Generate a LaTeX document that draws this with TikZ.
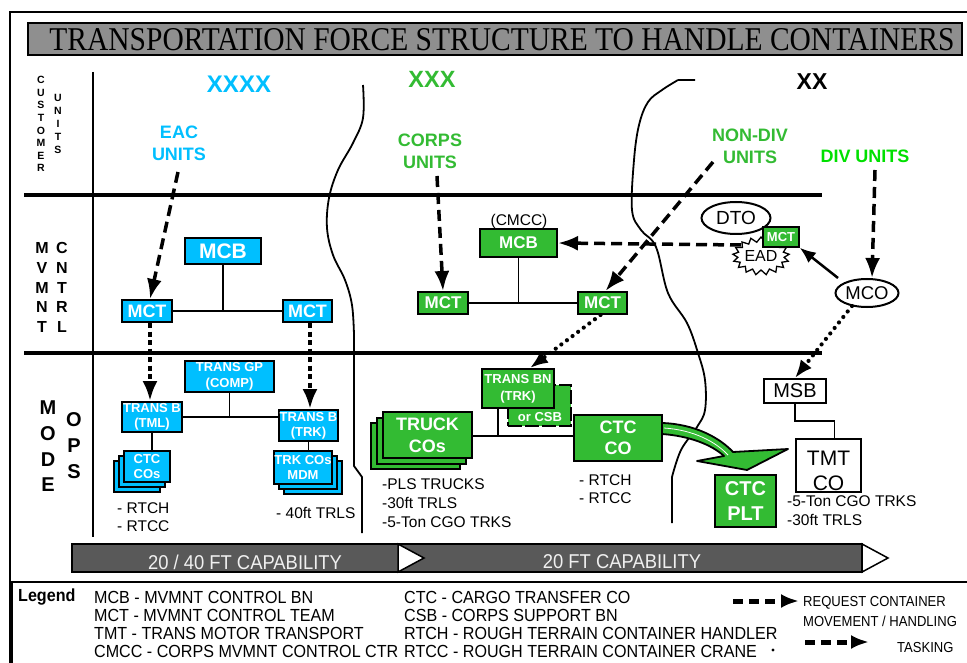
\documentclass[tikz,border=0pt]{standalone}
\usepackage{fontspec}
\usepackage{graphicx}
\setmainfont{Liberation Sans}
\newfontfamily\serifT{Liberation Serif}
\usetikzlibrary{arrows.meta,shapes.symbols,shapes.geometric}
\definecolor{cy}{HTML}{00BFFF}
\definecolor{gr}{HTML}{33BB33}
\definecolor{gt}{HTML}{33BB33}
\definecolor{lime}{HTML}{00E000}
\definecolor{titlegray}{HTML}{8F8F8F}
\definecolor{bargray}{HTML}{595959}
\newcommand{\fsz}[2]{\fontsize{#1}{#2}\selectfont}
\newcommand{\nar}[1]{\scalebox{0.92}[1]{#1}}
\tikzset{
  box/.style={draw=black, line width=2pt, inner sep=0pt, align=center, text=white},
  cbox/.style={box, fill=cy},
  gbox/.style={box, fill=gr},
  wbox/.style={draw=black, line width=2pt, fill=white, inner sep=0pt, align=center},
  conn/.style={line width=1.8pt},
  req/.style={line width=3.5pt, dash pattern=on 11pt off 6pt, -{Latex[length=20pt,width=15pt]}},
  tsk/.style={line width=3.8pt, dash pattern=on 5pt off 3.5pt, -{Latex[length=20pt,width=15pt]}},
  dotarr/.style={line width=4.2pt, line cap=round, dash pattern=on 0pt off 7pt, -{Latex[length=18pt,width=14pt]}},
  solidarr/.style={line width=2.5pt, -{Latex[length=16pt,width=13pt]}},
  sepline/.style={line width=4pt},
  border/.style={line width=2pt},
  ann/.style={font=\fsz{15.5}{15.5}, anchor=west, inner sep=0pt},
  lgd/.style={font=\fsz{17.5}{17.5}, anchor=west, inner sep=0pt},
  curvy/.style={line width=1.8pt, line join=round},
}
\begin{document}
\begin{tikzpicture}[x=1pt,y=-1pt]
\useasboundingbox (0,0) rectangle (967,663);
\fill[white] (0,0) rectangle (967,663);

% frame and title
\draw[border] (10,664) -- (10,12) -- (968,12);
\node[draw=black, line width=2pt, fill=titlegray, minimum width=934pt, minimum height=32pt, inner sep=0pt] (tbox) at (495,39) {};
\node[inner sep=0pt] (title) at (502,39.5) {\resizebox{905pt}{22pt}{\serifT TRANSPORTATION FORCE STRUCTURE TO HANDLE CONTAINERS}};

% separators
\draw[sepline] (24,195) -- (822,195);
\draw[sepline] (24,353) -- (822,353);
\draw[line width=2pt] (93,72) -- (93,537);

% curvy boundaries
\draw[curvy] plot[smooth, tension=0.6] coordinates {(363,85) (363,118) (353,143) (338,170) (329,198) (327,228) (333,255) (345,280) (352,305) (354,335)} -- (354,466) -- (362,477) -- (362,533);
\draw[curvy] (695,80) -- (678,80) plot[smooth, tension=0.6] coordinates {(678,80) (662,90) (648,102) (639,125) (634,160) (632,210) (641,230) (656,247) (668,293) (687,323) (698,353) (705,380) (705,410) (697,427) (681,450) (672,477)} -- (672,523);

% left labels
\foreach \l [count=\i from 0] in {C,U,S,T,O,M,E,R}
  \node[font=\fsz{10.5}{10.5}\bfseries, inner sep=0pt] (cu\i) at (41,{80+12.6*\i}) {\l};
\foreach \l [count=\i from 0] in {U,N,I,T,S}
  \node[font=\fsz{10.5}{10.5}\bfseries, inner sep=0pt] (un\i) at (58,{98+13*\i}) {\l};
\foreach \l [count=\i from 0] in {M,V,M,N,T}
  \node[font=\fsz{16}{16}\bfseries, inner sep=0pt] (mv\i) at (42,{248+19.75*\i}) {\l};
\foreach \l [count=\i from 0] in {C,N,T,R,L}
  \node[font=\fsz{16}{16}\bfseries, inner sep=0pt] (cn\i) at (62,{248+19.75*\i}) {\l};
\foreach \l [count=\i from 0] in {M,O,D,E}
  \node[font=\fsz{20}{20}\bfseries, inner sep=0pt] (mo\i) at (48,{408+25.7*\i}) {\l};
\foreach \l [count=\i from 0] in {O,P,S}
  \node[font=\fsz{20}{20}\bfseries, inner sep=0pt] (op\i) at (74,{420+26*\i}) {\l};

% column headers
\node[font=\fsz{24}{24}\bfseries, text=cy, inner sep=0pt] (x4) at (239,84) {XXXX};
\node[font=\fsz{23.5}{23.5}\bfseries, text=gt, inner sep=0pt] (x3) at (432,79) {XXX};
\node[font=\fsz{23}{23}\bfseries, text=black, inner sep=0pt] (x2) at (812,82) {XX};

\node[font=\fsz{18}{22}\bfseries, text=cy, align=center, inner sep=0pt] (eac) at (179,143) {EAC\\UNITS};
\node[font=\fsz{18}{22}\bfseries, text=gt, align=center, inner sep=0pt] (corps) at (430,151) {CORPS\\UNITS};
\node[font=\fsz{18}{22}\bfseries, text=gt, align=center, inner sep=0pt] (nondiv) at (750,146.5) {NON-DIV\\UNITS};
\node[font=\fsz{18}{18}\bfseries, text=lime, inner sep=0pt] (div) at (865,156) {DIV UNITS};

% ---------- cyan (EAC) ----------
\node[cbox, minimum width=76pt, minimum height=26pt, font=\fsz{21}{21}\bfseries] (mcbC) at (223,251) {MCB};
\node[cbox, minimum width=50pt, minimum height=22pt, font=\fsz{18}{18}\bfseries] (mctC1) at (147,311) {MCT};
\node[cbox, minimum width=49pt, minimum height=22pt, font=\fsz{18}{18}\bfseries] (mctC2) at (307.5,311) {MCT};
\draw[conn] (mcbC.south) -- (mcbC.south |- mctC1.east);
\draw[conn] (mctC1.east) -- (mctC2.west);

\node[cbox, minimum width=89pt, minimum height=31pt, font=\fsz{13}{16}\bfseries] (transgp) at (229.5,376.5) {TRANS GP\\(COMP)};
\node[cbox, minimum width=60pt, minimum height=30pt, font=\fsz{13}{15}\bfseries] (tml) at (152,417) {TRANS B\\(TML)};
\node[cbox, minimum width=59pt, minimum height=31pt, font=\fsz{13}{15}\bfseries] (trk) at (308.5,425.5) {TRANS B\\(TRK)};
\draw[conn] (transgp.south) -- (transgp.south |- tml.east);
\draw[conn] (tml.east) -- (trk.west |- tml.east);

\node[cbox, minimum width=46pt, minimum height=31pt] (ctcb2) at (137,476.5) {};
\node[cbox, minimum width=46pt, minimum height=31pt] (ctcb1) at (142,471.5) {};
\node[cbox, minimum width=46pt, minimum height=31pt, font=\fsz{13}{15}\bfseries] (ctcC) at (147,466.5) {CTC\\COs};
\node[cbox, minimum width=58pt, minimum height=33pt] (trkb2) at (313,477.5) {};
\node[cbox, minimum width=58pt, minimum height=33pt] (trkb1) at (308,472.5) {};
\node[cbox, minimum width=58pt, minimum height=33pt, font=\fsz{13}{15}\bfseries] (trkC) at (303,467.5) {TRK COs\\MDM};
\draw[conn] (tml.south) -- (tml.south |- ctcC.north);
\draw[conn] (trk.south) -- (trk.south |- trkC.north);

\node[ann] (a1) at (117,508) {- RTCH};
\node[ann] (a2) at (117,526) {- RTCC};
\node[ann] (a3) at (276,513) {- 40ft TRLS};

% ---------- green (CORPS) ----------
\node[font=\fsz{15.5}{15.5}, inner sep=0pt] (cmcc) at (519,221) {(CMCC)};
\node[gbox, minimum width=77pt, minimum height=28pt, font=\fsz{17}{17}\bfseries] (mcbG) at (518.5,243) {MCB};
\node[gbox, minimum width=50pt, minimum height=22pt, font=\fsz{17}{17}\bfseries] (mctG1) at (443,303) {MCT};
\node[gbox, minimum width=49pt, minimum height=22pt, font=\fsz{17}{17}\bfseries] (mctG2) at (602.5,303) {MCT};
\draw[conn] (mcbG.south) -- (mcbG.south |- mctG1.east);
\draw[conn] (mctG1.east) -- (mctG2.west);

\node[gbox, dash pattern=on 14pt off 3pt, minimum width=63pt, minimum height=41pt] (csb) at (539.5,405.5) {};
\node[font=\fsz{13}{13}\bfseries, text=white, inner sep=0pt] (csbt) at (540,417) {or CSB};
\node[gbox, minimum width=72pt, minimum height=39pt, font=\fsz{13}{17}\bfseries] (transbn) at (518,388.5) {TRANS BN\\(TRK)};

\node[gbox, minimum width=89pt, minimum height=46pt] (trkb2g) at (415.5,446) {};
\node[gbox, minimum width=89pt, minimum height=46pt] (trkb1g) at (421.5,440.5) {};
\node[gbox, minimum width=89pt, minimum height=46pt, font=\fsz{18}{22}\bfseries] (truck) at (427.5,435) {TRUCK\\COs};
\node[gbox, minimum width=88pt, minimum height=46pt, font=\fsz{18}{21}\bfseries] (ctcCO) at (618,438) {CTC\\CO};
\coordinate (bnj) at (498,436);
\draw[conn] (transbn.south -| bnj) -- (bnj);
\draw[conn] (truck.east |- bnj) -- (ctcCO.west |- bnj);

\node[ann] (b1) at (382,484) {-PLS TRUCKS};
\node[ann] (b2) at (382,503) {-30ft TRLS};
\node[ann] (b3) at (382,522) {-5-Ton CGO TRKS};
\node[ann] (b4) at (579,480) {- RTCH};
\node[ann] (b5) at (579,498) {- RTCC};

% big green arrow
\draw[fill=gr, line width=1.8pt, line join=round] (662,423) .. controls (695,424) and (720,438) .. (733,452) -- (788,449) -- (747,470) -- (697,461) -- (724,456) .. controls (712,445) and (690,436) .. (662,434) -- cycle;
\draw[white, line width=0.8pt] (664,428) .. controls (694,430) and (716,442) .. (728,455);
\node[gbox, minimum width=61pt, minimum height=52pt, font=\fsz{20}{25}\bfseries] (ctcPLT) at (745.5,501) {CTC\\PLT};

% ---------- division ----------
\node[wbox, ellipse, minimum width=69pt, minimum height=32pt, font=\fsz{19}{19}] (dto) at (736,218) {DTO};
\node[starburst, starburst points=17, starburst point height=5pt, random starburst=0, draw=black, fill=white, line width=1.3pt, minimum width=42pt, minimum height=38pt, inner sep=0pt, font=\fsz{16}{16}] (ead) at (761,256) {EAD};
\node[gbox, line width=1.5pt, minimum width=36pt, minimum height=20pt, font=\fsz{13}{13}\bfseries] (mctS) at (781,237) {MCT};
\node[wbox, ellipse, minimum width=63pt, minimum height=28pt, font=\fsz{18.5}{18.5}] (mco) at (867,293) {MCO};
\node[wbox, minimum width=62pt, minimum height=24pt, font=\fsz{20}{20}] (msb) at (795,391) {MSB};
\node[wbox, minimum width=65pt, minimum height=53pt] (tmt) at (828.5,465.5) {};
\node[font=\fsz{21}{25}, align=center, inner sep=0pt] (tmtt) at (828.5,470.5) {TMT\\CO};
\draw[conn] (msb.south) -- (msb.south |- 0,421) -| ([xshift=6pt]tmt.north);
\node[ann] (c1) at (787,501) {-5-Ton CGO TRKS};
\node[ann] (c2) at (787,520) {-30ft TRLS};

% ---------- arrows ----------
\coordinate (eacS) at (178,172);
\coordinate (corpsS) at (437,176);
\coordinate (ndS) at (713,162);
\coordinate (eadW) at (741,245);
\coordinate (divS) at (875,170);
\coordinate (mcoNW) at (838,278);
\coordinate (mcoSW) at (852,306);
\draw[req] (eacS) -- ([xshift=3pt]mctC1.north);
\draw[req] (corpsS) -- (mctG1.north);
\draw[req] (ndS) -- ([xshift=3pt]mctG2.north);
\draw[req] (eadW) -- (mcbG.east);
\draw[req] (divS) -- ([xshift=5pt]mco.north);
\draw[tsk] ([xshift=3pt]mctC1.south) -- ([xshift=-2pt]tml.north);
\draw[tsk] ([xshift=2.5pt]mctC2.south) -- ([xshift=1.5pt]trk.north);
\draw[dotarr] ([xshift=-2pt]mctG2.south) -- ([xshift=12pt]transbn.north);
\draw[dotarr] (mcoSW) -- (msb.north);
\draw[solidarr] (mcoNW) -- (mctS.south east);

% ---------- capability bar ----------
\draw[fill=bargray, line width=1.5pt] (72,544) rectangle (862,572);
\draw[fill=white, line width=1.5pt, line join=miter] (398,544) -- (424,558) -- (398,572) -- cycle;
\draw[fill=white, line width=1.5pt, line join=miter] (862,544) -- (888,558) -- (862,572) -- cycle;
\node[font=\fsz{20}{20}, text=white!94!black, inner sep=0pt] (cap1) at (245,562) {\scalebox{0.92}[1]{20 / 40 FT CAPABILITY}};
\node[font=\fsz{20}{20}, text=white!94!black, inner sep=0pt] (cap2) at (622,562) {\scalebox{0.92}[1]{20 FT CAPABILITY}};

% ---------- legend ----------
\draw[line width=2.5pt] (12,666) -- (12,582) -- (970,582);
\node[lgd, font=\fsz{17.5}{17.5}\bfseries] (lgh) at (18,597) {\nar{Legend}};
\node[lgd] (l1) at (94,597) {\nar{MCB - MVMNT CONTROL BN}};
\node[lgd] (l2) at (94,615) {\nar{MCT - MVMNT CONTROL TEAM}};
\node[lgd] (l3) at (94,633) {\nar{TMT - TRANS MOTOR TRANSPORT}};
\node[lgd] (l4) at (94,651) {\nar{CMCC - CORPS MVMNT CONTROL CTR}};
\node[lgd] (l5) at (404,597) {\nar{CTC - CARGO TRANSFER CO}};
\node[lgd] (l6) at (404,615) {\nar{CSB - CORPS SUPPORT BN}};
\node[lgd] (l7) at (404,633) {\nar{RTCH - ROUGH TERRAIN CONTAINER HANDLER}};
\node[lgd] (l8) at (404,651) {\nar{RTCC - ROUGH TERRAIN CONTAINER CRANE}};
\coordinate (lga) at (733,601);
\coordinate (lgb) at (799,601);
\coordinate (lgc) at (805,642);
\coordinate (lgd2) at (869,642);
\draw[line width=5pt, dash pattern=on 10pt off 6pt, -{Latex[length=18pt,width=14pt]}] (lga) -- (lgb);
\draw[line width=5pt, dash pattern=on 10pt off 6pt, -{Latex[length=18pt,width=14pt]}] (lgc) -- (lgd2);
\fill (773,650) circle (1.6pt);
\node[font=\fsz{14.5}{14.5}, anchor=west, inner sep=0pt] (r1) at (803,603) {\scalebox{0.9}[1]{REQUEST CONTAINER}};
\node[font=\fsz{14.5}{14.5}, anchor=west, inner sep=0pt] (r2) at (803,621) {\scalebox{0.9}[1]{MOVEMENT / HANDLING}};
\node[font=\fsz{14.5}{14.5}, anchor=west, inner sep=0pt] (r3) at (897,648) {\scalebox{0.9}[1]{TASKING}};
\end{tikzpicture}
\end{document}
